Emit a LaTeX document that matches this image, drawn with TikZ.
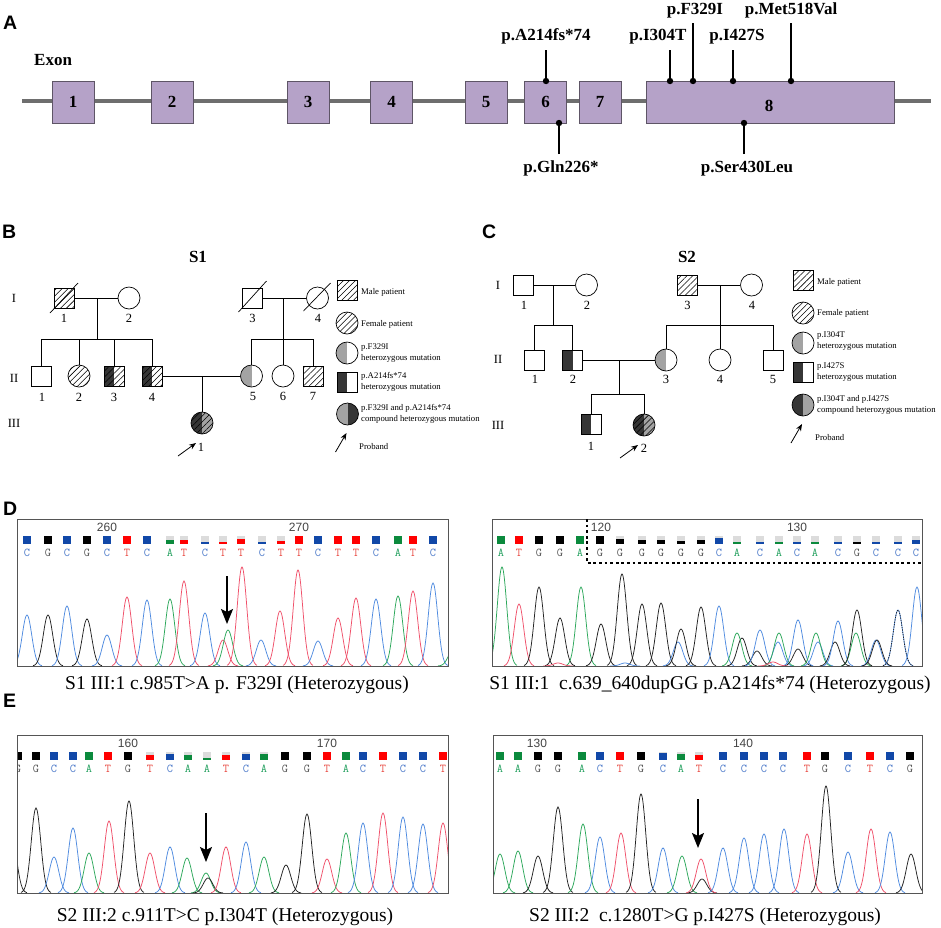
\documentclass[tikz,border=0pt]{standalone}
\usepackage{fontspec}
\setmainfont{Liberation Serif}
\newfontfamily\lsans{Liberation Sans}
\usetikzlibrary{patterns.meta,arrows.meta}
\definecolor{exfill}{HTML}{B5A2C8}
\definecolor{exdraw}{HTML}{5E5566}
\definecolor{bbone}{HTML}{6E6E6E}
\definecolor{hetgray}{HTML}{A3A3A3}
\definecolor{hetdark}{HTML}{363636}
\definecolor{sqA}{HTML}{0B8A3D}
\definecolor{sqC}{HTML}{1148A8}
\definecolor{sqG}{HTML}{000000}
\definecolor{sqT}{HTML}{FF0000}
\definecolor{sqgray}{HTML}{DCDCDC}
\definecolor{ltA}{HTML}{22A05E}
\definecolor{ltC}{HTML}{4A78C9}
\definecolor{ltG}{HTML}{5A5A5A}
\definecolor{ltT}{HTML}{E8473F}
\definecolor{pkA}{HTML}{2DA85B}
\definecolor{pkC}{HTML}{4F8BE0}
\definecolor{pkG}{HTML}{222222}
\definecolor{pkT}{HTML}{F0506A}
\definecolor{framec}{HTML}{555555}
\definecolor{numc}{HTML}{444444}
\newcommand\bsl{666}
\newcommand\pk[3]{\draw[color=pk#2, line width=0.75pt] plot[domain=-15:15, samples=31, smooth] ({#1+\x},{\bsl-(#3)*exp(-(\x*\x)/45)});}
\newcommand\bq[4]{%
 \fill[sqgray] ({#1-4},{#2-4}) rectangle ({#1+4},{#2+4});
 \fill[sq#3] ({#1-4},{#2+4-8*#4}) rectangle ({#1+4},{#2+4});
 \node[basel, text=lt#3] (L#1x#2) at (#1,{#2+13}) {#3};}
\begin{document}
\begin{tikzpicture}[x=1pt,y=-1pt,
 male/.style={draw, rectangle, minimum width=20pt, minimum height=20pt, inner sep=0pt, line width=0.7pt},
 female/.style={draw, circle, minimum size=22pt, inner sep=0pt, line width=0.7pt},
 hatchfill/.style={pattern={Lines[angle=45,distance=4.2pt,line width=0.55pt]}},
 halfL/.style={path picture={\fill[#1] (path picture bounding box.south west) rectangle (path picture bounding box.north);}},
 halfLR/.style 2 args={path picture={\fill[#1] (path picture bounding box.south west) rectangle (path picture bounding box.north); \fill[#2] (path picture bounding box.south) rectangle (path picture bounding box.north east);}},
 hatchLR/.style 2 args={path picture={\fill[#1] (path picture bounding box.south west) rectangle (path picture bounding box.north); \fill[#2] (path picture bounding box.south) rectangle (path picture bounding box.north east); \fill[pattern={Lines[angle=45,distance=4.2pt,line width=0.55pt]}] (path picture bounding box.south west) rectangle (path picture bounding box.north east);}},
 pline/.style={line width=0.7pt},
 pnum/.style={font=\fontsize{12.5}{14}\selectfont, inner sep=0pt},
 legtxt/.style={font=\fontsize{8.7}{10.5}\selectfont, anchor=west, align=left, inner sep=0pt},
 exon/.style={draw=exdraw, fill=exfill, line width=0.9pt, minimum width=42pt, minimum height=42pt, inner sep=0pt, font=\fontsize{17}{20}\selectfont\bfseries},
 mutlab/.style={font=\fontsize{17}{20}\selectfont\bfseries, inner sep=0pt, anchor=base},
 pinline/.style={line width=1.6pt},
 panel/.style={font=\lsans\bfseries\fontsize{19.5}{22}\selectfont, inner sep=0pt, anchor=base west},
 sname/.style={font=\fontsize{17}{20}\selectfont\bfseries, inner sep=0pt, anchor=base},
 captxt/.style={font=\fontsize{19.5}{22}\selectfont, inner sep=0pt},
 chromframe/.style={draw=framec, line width=0.8pt},
 basel/.style={font=\ttfamily\fontsize{12}{12}\selectfont, inner sep=0pt},
 posnum/.style={font=\lsans\fontsize{12}{12}\selectfont, text=numc, inner sep=0pt},
 marrow/.style={line width=1.6pt, -{Stealth[length=15pt,width=12pt,inset=3pt]}},
 parrow/.style={line width=0.8pt, -{Stealth[length=7pt,width=5.5pt]}}
]
\useasboundingbox (0,0) rectangle (941,927);
\fill[white] (0,0) rectangle (941,927);

% ================= Panel A =================
\node[panel] (labA) at (3,29) {A};
\node[font=\fontsize{17}{20}\selectfont\bfseries, inner sep=0pt, anchor=base west] (exonlab) at (34,65) {Exon};
\coordinate (bbL) at (22,101);
\coordinate (bbR) at (931,101);
\draw[bbone, line width=3.5pt] (bbL) -- (bbR);
\node[exon] (e1) at (73,102) {1};
\node[exon] (e2) at (172,102) {2};
\node[exon] (e3) at (308,102) {3};
\node[exon] (e4) at (391.5,102) {4};
\node[exon] (e5) at (486,102) {5};
\node[exon] (e6) at (545.5,102) {6};
\node[exon] (e7) at (600,102) {7};
\node[exon, minimum width=248pt] (e8) at (770,102) {};
\node[font=\fontsize{17}{20}\selectfont\bfseries, inner sep=0pt] (n8) at (769,106) {8};
\coordinate (tA214) at (546,50);  \coordinate (dA214) at (546,81);
\coordinate (tI304) at (670,50);  \coordinate (dI304) at (670,81);
\coordinate (tF329) at (693,23);  \coordinate (dF329) at (693,81);
\coordinate (tI427) at (733,50);  \coordinate (dI427) at (733,81);
\coordinate (tM518) at (791,23);  \coordinate (dM518) at (791,81);
\coordinate (tG226) at (559,154); \coordinate (dG226) at (559,123);
\coordinate (tS430) at (744,154); \coordinate (dS430) at (744,123);
\foreach \p in {A214,I304,F329,I427,M518,G226,S430}{
  \draw[pinline] (t\p) -- (d\p);
  \fill (d\p) circle (3.2pt);
}
\node[mutlab] (mA214) at (546,40) {p.A214fs*74};
\node[mutlab] (mI304) at (658,40) {p.I304T};
\node[mutlab] (mF329) at (695,14) {p.F329I};
\node[mutlab] (mI427) at (737,40) {p.I427S};
\node[mutlab] (mM518) at (791,14) {p.Met518Val};
\node[mutlab] (mG226) at (561,172) {p.Gln226*};
\node[mutlab] (mS430) at (747,172) {p.Ser430Leu};

% ================= Panel B =================
\node[panel] (labB) at (2,238) {B};
\node[sname] (S1) at (198,262) {S1};
\node[pnum] (gB1) at (14,298) {I};
\node[pnum] (gB2) at (14,378) {II};
\node[pnum] (gB3) at (14,423) {III};
\node[male, hatchfill] (B11) at (64,298) {};
\node[female] (B12) at (129,298) {};
\node[male] (B13) at (252.5,298) {};
\node[female] (B14) at (317.5,298) {};
\draw[pline] ([shift={(-14,15)}]B11.center) -- ([shift={(14,-15)}]B11.center);
\draw[pline] ([shift={(-14,14)}]B13.center) -- ([shift={(14,-17)}]B13.center);
\draw[pline] ([shift={(-14,13)}]B14.center) -- ([shift={(13,-15)}]B14.center);
\draw[pline] (B11.east) -- (B12.west);
\draw[pline] (B13.east) -- (B14.west);
\coordinate (Bm1) at (97,298);  \coordinate (Bs1) at (97,339);
\coordinate (Bm2) at (283,298); \coordinate (Bs2) at (283,339);
\draw[pline] (Bm1) -- (Bs1);
\draw[pline] (Bm2) -- (Bs2);
\node[male] (B21) at (41.5,376) {};
\node[female, hatchfill] (B22) at (79,376) {};
\node[male, hatchLR={hetdark}{white}] (B23) at (114,376) {};
\node[male, hatchLR={hetdark}{white}] (B24) at (152,376) {};
\node[female, halfL=hetgray] (B25) at (251.5,376) {};
\node[female] (B26) at (283,376) {};
\node[male, hatchfill] (B27) at (313.5,376) {};
\draw[pline] (B21.north |- Bs1) -- (B24.north |- Bs1);
\foreach \n in {B21,B22,B23,B24} \draw[pline] (\n.north) -- (\n.north |- Bs1);
\draw[pline] (B25.north |- Bs2) -- (B27.north |- Bs2);
\foreach \n in {B25,B26,B27} \draw[pline] (\n.north) -- (\n.north |- Bs2);
\draw[pline] (B24.east) -- (B25.west);
\node[female, hatchLR={hetdark}{hetgray}] (B31) at (202,423) {};
\coordinate (Bm3) at (202,376);
\draw[pline] (Bm3) -- (B31.north);
\draw[parrow] ([shift={(-24,33)}]B31.center) -- ([shift={(-6,20)}]B31.center);
\node[pnum] (nB11) at (64,318) {1};
\node[pnum] (nB12) at (129,318) {2};
\node[pnum] (nB13) at (252.5,318) {3};
\node[pnum] (nB14) at (318,318) {4};
\node[pnum] (nB21) at (42,397) {1};
\node[pnum] (nB22) at (79,397) {2};
\node[pnum] (nB23) at (114,397) {3};
\node[pnum] (nB24) at (152,397) {4};
\node[pnum] (nB25) at (253,396) {5};
\node[pnum] (nB26) at (283,396) {6};
\node[pnum] (nB27) at (313,396) {7};
\node[pnum] (nB31) at (201,447) {1};
\node[male, hatchfill] (LBm) at (347,290) {};
\node[legtxt] (tLBm) at (361,292) {Male patient};
\node[female, hatchfill] (LBf) at (347,323) {};
\node[legtxt] (tLBf) at (361,324) {Female patient};
\node[female, halfL=hetgray] (LBh1) at (347,353) {};
\node[legtxt] (tLBh1) at (361,353) {p.F329I\\heterozygous mutation};
\node[male, halfL=hetdark] (LBh2) at (347,382) {};
\node[legtxt] (tLBh2) at (361,382) {p.A214fs*74\\heterozygous mutation};
\node[female, halfLR={hetgray}{hetdark}] (LBc) at (347.5,414) {};
\node[legtxt] (tLBc) at (361,414) {p.F329I and p.A214fs*74\\compound heterozygous mutation};
\draw[parrow] ([shift={(-12,38)}]LBc.center) -- ([shift={(-1,19)}]LBc.center);
\node[legtxt] (tLBp) at (359,447) {Proband};

% ================= Panel C =================
\node[panel] (labC) at (482,238) {C};
\node[sname] (S2) at (687,262) {S2};
\node[pnum] (gC1) at (498,285) {I};
\node[pnum] (gC2) at (498,359) {II};
\node[pnum] (gC3) at (498,425) {III};
\node[male] (C11) at (523.5,285) {};
\node[female] (C12) at (586.5,285) {};
\node[male, hatchfill] (C13) at (687.5,285) {};
\node[female] (C14) at (751.5,285) {};
\draw[pline] (C11.east) -- (C12.west);
\draw[pline] (C13.east) -- (C14.west);
\coordinate (Cm1) at (553,285); \coordinate (Cs1) at (553,325);
\coordinate (Cm2) at (720,285); \coordinate (Cs2) at (720,325);
\draw[pline] (Cm1) -- (Cs1);
\draw[pline] (Cm2) -- (Cs2);
\node[male] (C21) at (534.5,360) {};
\node[male, halfL=hetdark] (C22) at (572.5,360) {};
\node[female, halfL=hetgray] (C23) at (666,360) {};
\node[female] (C24) at (720,360) {};
\node[male] (C25) at (773,360) {};
\draw[pline] (C21.north |- Cs1) -- (C22.north |- Cs1);
\foreach \n in {C21,C22} \draw[pline] (\n.north) -- (\n.north |- Cs1);
\draw[pline] (C23.north |- Cs2) -- (C25.north |- Cs2);
\foreach \n in {C23,C24,C25} \draw[pline] (\n.north) -- (\n.north |- Cs2);
\draw[pline] (C22.east) -- (C23.west);
\coordinate (Cm3) at (619,360); \coordinate (Cs3) at (619,394);
\draw[pline] (Cm3) -- (Cs3);
\node[male, halfL=hetdark] (C31) at (591,424) {};
\node[female, hatchLR={hetdark}{hetgray}] (C32) at (644,425) {};
\draw[pline] (C31.north |- Cs3) -- (C32.north |- Cs3);
\foreach \n in {C31,C32} \draw[pline] (\n.north) -- (\n.north |- Cs3);
\draw[parrow] ([shift={(-24,33)}]C32.center) -- ([shift={(-6,20)}]C32.center);
\node[pnum] (nC11) at (524,305) {1};
\node[pnum] (nC12) at (587,305) {2};
\node[pnum] (nC13) at (687.5,305) {3};
\node[pnum] (nC14) at (752,305) {4};
\node[pnum] (nC21) at (535,379) {1};
\node[pnum] (nC22) at (573,379) {2};
\node[pnum] (nC23) at (666,379) {3};
\node[pnum] (nC24) at (720,379) {4};
\node[pnum] (nC25) at (773,379) {5};
\node[pnum] (nC31) at (591,446) {1};
\node[pnum] (nC32) at (644,448) {2};
\node[male, hatchfill] (LCm) at (803,280) {};
\node[legtxt] (tLCm) at (817,282) {Male patient};
\node[female, hatchfill] (LCf) at (803,313) {};
\node[legtxt] (tLCf) at (817,313) {Female patient};
\node[female, halfL=hetgray] (LCh1) at (803,343) {};
\node[legtxt] (tLCh1) at (817,341) {p.I304T\\heterozygous mutation};
\node[male, halfL=hetdark] (LCh2) at (803,372.5) {};
\node[legtxt] (tLCh2) at (817,372) {p.I427S\\heterozygous mutation};
\node[female, halfLR={hetdark}{hetgray}] (LCc) at (803,405) {};
\node[legtxt] (tLCc) at (817,405) {p.I304T and p.I427S\\compound heterozygous mutation};
\draw[parrow] ([shift={(-12,38)}]LCc.center) -- ([shift={(-1,19)}]LCc.center);
\node[legtxt] (tLCp) at (815,438) {Proband};

% ================= Panel D =================
\node[panel] (labD) at (3,515) {D};
\begin{scope}
\clip (17,519) rectangle (448,666);
\renewcommand\bsl{666}
\pk{27}{C}{51}\pk{48}{G}{51}\pk{67}{C}{60}\pk{87}{G}{47}\pk{107}{C}{31}
\pk{127}{T}{69}\pk{147}{C}{66}\pk{170}{A}{67}\pk{184}{T}{85}\pk{205}{C}{53}
\pk{223}{T}{26}\pk{228}{A}{36}\pk{242}{T}{99}\pk{261}{C}{26}\pk{280}{T}{55}
\pk{298}{T}{96}\pk{318}{C}{25}\pk{338}{T}{48}\pk{356}{T}{68}\pk{376}{C}{67}
\pk{398}{A}{70}\pk{413}{T}{75}\pk{433}{C}{83}\pk{453}{A}{16}
\end{scope}
\draw[chromframe] (17,519) rectangle (448,666);
\node[posnum] (nD260) at (107,527) {260};
\node[posnum] (nD270) at (299,527) {270};
\bq{27}{540}{C}{1}\bq{48}{540}{G}{1}\bq{67}{540}{C}{1}\bq{87}{540}{G}{1}
\bq{107}{540}{C}{1}\bq{127}{540}{T}{1}\bq{147}{540}{C}{1}\bq{170}{540}{A}{0.45}
\bq{184}{540}{T}{0.55}\bq{205}{540}{C}{0.3}\bq{223}{540}{T}{0.2}\bq{241}{540}{T}{0.6}
\bq{262}{540}{C}{0.25}\bq{281}{540}{T}{0.4}\bq{299}{540}{T}{1}\bq{318}{540}{C}{1}
\bq{338}{540}{T}{1}\bq{356}{540}{T}{1}\bq{376}{540}{C}{1}\bq{398}{540}{A}{1}
\bq{413}{540}{T}{1}\bq{433}{540}{C}{1}
\coordinate (arD1a) at (227,576); \coordinate (arD1b) at (227,624);
\draw[marrow] (arD1a) -- (arD1b);
\node[captxt] (capD1) at (237,685) {S1 III:1 c.985T>A p. F329I (Heterozygous)};
\begin{scope}
\clip (492,519) rectangle (922,666);
\renewcommand\bsl{666}
\pk{502}{A}{99}\pk{519}{T}{62}\pk{539}{G}{79}\pk{560}{G}{48}\pk{581}{A}{79}
\pk{601}{G}{42}\pk{622}{G}{92}\pk{642}{G}{62}\pk{661}{G}{63}\pk{678}{C}{24}
\pk{681}{G}{37}\pk{701}{G}{59}\pk{719}{C}{60}\pk{742}{G}{28}\pk{737}{A}{33}
\pk{757}{G}{15}\pk{760}{C}{36}\pk{778}{C}{24}\pk{779}{A}{33}\pk{798}{G}{17}
\pk{798}{C}{46}\pk{818}{C}{24}\pk{816}{A}{33}\pk{835}{G}{24}\pk{838}{C}{45}
\pk{856}{A}{33}\pk{857}{G}{56}\pk{876}{C}{26}\pk{877}{G}{26}\pk{898}{C}{56}
\draw[color=pkG, line width=0.75pt, dash pattern=on 1.2pt off 1.2pt] plot[domain=-15:15, samples=31, smooth] ({898+\x},{666-56*exp(-(\x*\x)/45)});
\pk{917}{C}{79}\pk{558}{T}{3}\pk{773}{T}{4}\pk{625}{C}{3}
\end{scope}
\draw[chromframe] (492,519) rectangle (922,666);
\node[posnum] (nD120) at (601,527) {120};
\node[posnum] (nD130) at (797,527) {130};
\bq{501}{540}{A}{1}\bq{519}{540}{T}{1}\bq{539}{540}{G}{1}\bq{560}{540}{G}{1}
\bq{580}{540}{A}{1}\bq{600}{540}{G}{1}\bq{620}{540}{G}{0.65}\bq{642}{540}{G}{0.55}
\bq{661}{540}{G}{0.55}\bq{681}{540}{G}{0.35}\bq{701}{540}{G}{0.55}\bq{719}{540}{C}{0.7}
\bq{737}{540}{A}{0.3}\bq{760}{540}{C}{0.3}\bq{779}{540}{A}{0.3}\bq{797}{540}{C}{0.3}
\bq{815}{540}{A}{0.3}\bq{838}{540}{C}{0.25}\bq{857}{540}{G}{0.25}\bq{876}{540}{C}{0.25}
\bq{898}{540}{C}{0.25}\bq{916}{540}{C}{0.45}
\coordinate (dfA) at (587,519); \coordinate (dfB) at (587,563); \coordinate (dfC) at (922,563);
\draw[line width=2.8pt, dash pattern=on 2.8pt off 2.8pt] (dfA) -- (dfB) -- (dfC);
\node[captxt] (capD2) at (710,685) {S1 III:1\ \ c.639\_640dupGG p.A214fs*74 (Heterozygous)};

% ================= Panel E =================
\node[panel] (labE) at (3,707) {E};
\begin{scope}
\clip (17,735) rectangle (448,893);
\renewcommand\bsl{893}
\pk{12}{G}{55}\pk{36}{G}{85}\pk{54}{C}{36}\pk{73}{C}{65}\pk{89}{A}{40}
\pk{109}{T}{72}\pk{129}{G}{92}\pk{150}{T}{40}\pk{170}{C}{46}\pk{187}{A}{35}
\pk{206}{A}{20}\pk{208}{G}{15}\pk{226}{T}{46}\pk{246}{C}{51}\pk{264}{A}{36}
\pk{286}{G}{28}\pk{307}{G}{79}\pk{327}{T}{34}\pk{346}{A}{60}\pk{363}{C}{70}
\pk{383}{T}{80}\pk{403}{C}{76}\pk{423}{C}{69}\pk{443}{T}{70}
\bq{18}{756}{G}{1}
\end{scope}
\draw[chromframe] (17,735) rectangle (448,893);
\node[posnum] (nE160) at (128,743) {160};
\node[posnum] (nE170) at (327,743) {170};
\bq{36}{756}{G}{1}\bq{54}{756}{C}{1}\bq{73}{756}{C}{1}\bq{89}{756}{A}{1}
\bq{108}{756}{T}{1}\bq{128}{756}{G}{1}\bq{150}{756}{T}{0.6}\bq{170}{756}{C}{0.8}
\bq{188}{756}{A}{0.6}\bq{207}{756}{A}{0.3}\bq{226}{756}{T}{0.6}\bq{246}{756}{C}{0.75}
\bq{264}{756}{A}{0.75}\bq{285}{756}{G}{1}\bq{307}{756}{G}{1}\bq{327}{756}{T}{1}
\bq{346}{756}{A}{1}\bq{363}{756}{C}{1}\bq{383}{756}{T}{1}\bq{403}{756}{C}{1}
\bq{423}{756}{C}{1}\bq{443}{756}{T}{1}
\coordinate (arE1a) at (206,813); \coordinate (arE1b) at (206,862);
\draw[marrow] (arE1a) -- (arE1b);
\node[captxt] (capE1) at (225,917) {S2 III:2 c.911T>C p.I304T (Heterozygous)};
\begin{scope}
\clip (493,735) rectangle (922,893);
\renewcommand\bsl{893}
\pk{500}{A}{39}\pk{518}{A}{42}\pk{538}{G}{37}\pk{558}{G}{86}\pk{583}{A}{69}
\pk{600}{C}{56}\pk{621}{T}{60}\pk{641}{G}{99}\pk{663}{C}{45}\pk{682}{A}{37}
\pk{702}{G}{14}\pk{701}{T}{34}\pk{723}{C}{45}\pk{744}{C}{55}\pk{764}{C}{59}
\pk{784}{C}{64}\pk{807}{T}{59}\pk{826}{G}{107}\pk{848}{C}{41}\pk{871}{T}{64}
\pk{890}{C}{61}\pk{911}{G}{39}
\end{scope}
\draw[chromframe] (493,735) rectangle (922,893);
\node[posnum] (nE130) at (537,743) {130};
\node[posnum] (nE140) at (743,743) {140};
\bq{500}{756}{A}{1}\bq{518}{756}{A}{1}\bq{538}{756}{G}{1}\bq{558}{756}{G}{1}
\bq{582}{756}{A}{1}\bq{600}{756}{C}{1}\bq{620}{756}{T}{1}\bq{641}{756}{G}{1}
\bq{663}{756}{C}{0.85}\bq{681}{756}{A}{0.75}\bq{699}{756}{T}{0.6}\bq{723}{756}{C}{1}
\bq{744}{756}{C}{1}\bq{764}{756}{C}{1}\bq{783}{756}{C}{1}\bq{807}{756}{T}{1}
\bq{825}{756}{G}{1}\bq{848}{756}{C}{1}\bq{870}{756}{T}{1}\bq{890}{756}{C}{1}
\bq{910}{756}{G}{1}
\coordinate (arE2a) at (698,799); \coordinate (arE2b) at (698,848);
\draw[marrow] (arE2a) -- (arE2b);
\node[captxt] (capE2) at (705,917) {S2 III:2\ \ c.1280T>G p.I427S (Heterozygous)};
\end{tikzpicture}
\end{document}
